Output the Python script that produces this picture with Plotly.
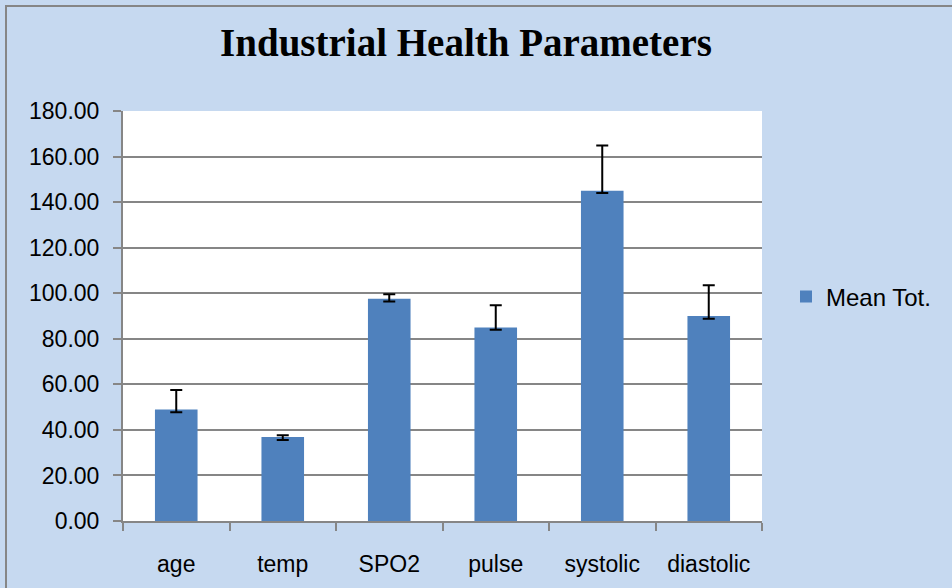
import plotly.graph_objects as go

# values
params = ["age", "temp", "SPO2", "pulse", "systolic", "diastolic"]
mean_tot = [49.0, 36.9, 97.6, 85.0, 145.0, 90.0]
err_plus = [8.5, 0.7, 1.9, 9.7, 19.8, 13.5]
err_minus = [1.3, 1.3, 1.2, 1.0, 1.0, 1.2]
y_ticks = [0, 20, 40, 60, 80, 100, 120, 140, 160, 180]

bg = "#C6D9F0"
gray = "#868686"

fig = go.Figure()
fig.add_trace(go.Bar(
    x=params,
    y=mean_tot,
    name="Mean Tot.",
    marker=dict(color="#4F81BD", line=dict(width=0)),
    error_y=dict(
        type="data",
        symmetric=False,
        array=err_plus,
        arrayminus=err_minus,
        color="black",
        thickness=2,
        width=6,
    ),
))

fig.update_layout(
    width=952,
    height=588,
    paper_bgcolor=bg,
    plot_bgcolor="white",
    margin=dict(l=123, r=190, t=111, b=67),
    bargap=0.6,
    showlegend=True,
    title=dict(
        text="<b>Industrial Health Parameters</b>",
        font=dict(family="Liberation Serif", size=39, color="black"),
        x=466 / 952, xref="container", xanchor="center",
        y=1 - 42 / 588, yref="container", yanchor="middle",
    ),
    legend=dict(
        x=786 / 952, xref="container", xanchor="left",
        y=1 - 297 / 588, yref="container", yanchor="middle",
        bgcolor="rgba(0,0,0,0)",
        font=dict(family="Liberation Sans", size=24, color="black"),
        itemwidth=30,
    ),
    font=dict(family="Liberation Sans", size=23, color="black"),
    # grey chart frame, runs off the right/bottom edge like the original
    shapes=[dict(
        type="rect", xref="paper", yref="paper",
        x0=-117 / 639, x1=1 + 300 / 639,
        y0=-1, y1=1 + 105 / 410,
        line=dict(color=gray, width=2), fillcolor="rgba(0,0,0,0)",
        layer="below",
    )],
)

fig.update_yaxes(
    range=[0, 180],
    tickvals=y_ticks,
    tickformat=".2f",
    showgrid=True, gridcolor=gray, gridwidth=1.5,
    showline=True, linecolor=gray, linewidth=2,
    ticks="outside", ticklen=8, tickcolor=gray, tickwidth=2,
    ticklabelstandoff=9,
    zeroline=False,
    tickfont=dict(family="Liberation Sans", size=23, color="black"),
)
fig.update_xaxes(
    showline=True, linecolor=gray, linewidth=2,
    ticks="outside", tickson="boundaries", ticklen=8, tickcolor=gray, tickwidth=2,
    ticklabelstandoff=21,
    tickfont=dict(family="Liberation Sans", size=23, color="black"),
    mirror=False,
)

# drop the page's default body margin so the figure sits at 0,0
fig.write_html(
    "out.html",
    config={"displayModeBar": False},
    post_script="document.body.style.margin='0';",
)
